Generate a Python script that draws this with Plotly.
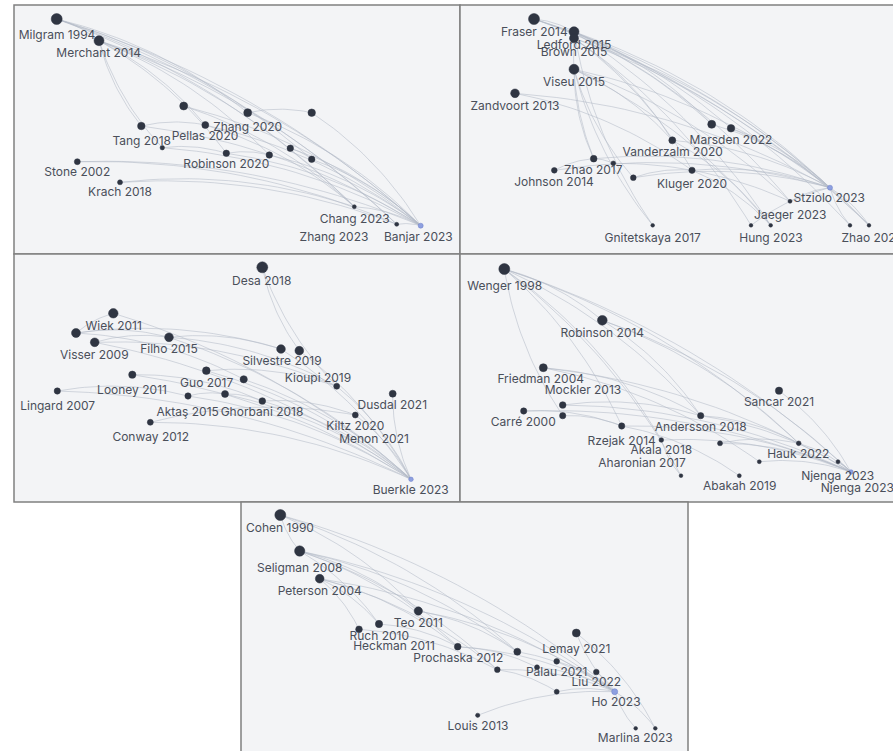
import plotly.graph_objects as go

W, H = 893, 751

# ---------------- Panel A ----------------
A_x = [56.7, 99, 183.7, 247.7, 311.7, 141.3, 205.3, 162.3, 226.3, 269.3, 290.3, 311.7, 77.3, 120, 354.3, 396.7, 420.7]
A_y = [19, 40.7, 106, 112.7, 112.7, 126, 125, 147.7, 153.3, 155, 148.3, 159.3, 161.7, 182.3, 206.7, 224.3, 225.7]
A_size = [11, 10, 8, 8, 7.5, 7.5, 7, 4.5, 6.5, 6.5, 6.5, 6.5, 6, 5, 4, 4, 5]
A_origin = 16
A_edges = [(0, 16), (0, 15), (0, 14), (0, 11), (0, 3), (1, 5), (1, 7), (1, 6), (1, 8), (1, 16), (1, 14),
           (1, 15), (1, 9), (5, 6), (5, 16), (2, 16), (3, 4), (3, 16), (4, 16), (6, 14), (6, 16), (7, 8),
           (7, 16), (8, 9), (8, 16), (9, 16), (10, 16), (11, 16), (10, 11), (12, 15), (12, 16), (13, 14),
           (13, 15), (14, 16), (15, 16), (2, 14), (0, 1)]
A_labels = ["Milgram 1994", "Merchant 2014", "Zhang 2020", "Tang 2018", "Pellas 2020", "Robinson 2020",
            "Stone 2002", "Krach 2018", "Chang 2023", "Zhang 2023", "Banjar 2023"]
A_lx = [57, 98.7, 247.7, 141.7, 205, 226.3, 77.3, 120, 354.7, 334, 418.3]
A_ly = [36, 54, 128, 141.7, 136.7, 165, 173.3, 193.3, 220, 238.3, 238.3]

# ---------------- Panel B ----------------
B_x = [534, 574, 574, 574, 515, 711.7, 731, 672.3, 593.7, 613.3, 554.3, 633.3, 692, 830, 790, 652.7, 751, 770.7, 850, 869]
B_y = [19, 31.7, 38.3, 69.3, 93.3, 124.3, 128.3, 140.3, 158.7, 163.3, 170.3, 177.7, 170.3, 187.7, 201.3, 225.3, 225.3, 225.3, 225.3, 225.3]
B_size = [11, 10, 9, 10, 8.7, 8, 7.5, 7, 6.7, 4.7, 5.7, 5.7, 6.3, 5, 4, 3.7, 3.7, 3.7, 3.7, 3.7]
B_origin = 13
B_edges = [(0, 13), (0, 19), (0, 6), (0, 1), (0, 5), (1, 13), (1, 5), (1, 17), (1, 18), (1, 14), (15, 1),
           (2, 13), (2, 19), (2, 16), (2, 12), (2, 8), (2, 7), (3, 13), (3, 17), (15, 3), (3, 11), (3, 7),
           (3, 14), (8, 3), (4, 12), (4, 13), (5, 13), (6, 13), (6, 19), (7, 13), (7, 17), (8, 9), (8, 13),
           (10, 8), (10, 13), (11, 12), (11, 13), (12, 13), (12, 17), (14, 13), (13, 19), (16, 13), (18, 13), (9, 14)]
B_labels = ["Fraser 2014", "Ledford 2015", "Brown 2015", "Viseu 2015", "Zandvoort 2013", "Marsden 2022",
            "Vanderzalm 2020", "Zhao 2017", "Johnson 2014", "Kluger 2020", "Stziolo 2023", "Jaeger 2023",
            "Gnitetskaya 2017", "Hung 2023", "Zhao 2023"]
B_lx = [534.3, 574, 574, 574, 515, 731, 672.7, 593.3, 554, 692, 829.3, 790.3, 652.7, 771, 872.3]
B_ly = [33.3, 45.7, 53.3, 82.7, 107.3, 140.7, 152.7, 170.7, 182.7, 185, 199.3, 216, 239.3, 239.3, 239.3]

# ---------------- Panel C ----------------
C_x = [262.3, 113.3, 76, 94.7, 169, 281, 299.3, 206.3, 243.7, 132.3, 336.7, 57.3, 188, 225, 262.3, 392.7, 355.3, 150.3, 411]
C_y = [267.3, 313.3, 333, 342.3, 337.3, 349, 350.7, 370.7, 379.3, 374.7, 386.3, 391, 396, 394, 401, 393.7, 415, 422.3, 479.3]
C_size = [11, 9.5, 9, 8.7, 8.7, 8.7, 8.7, 7.7, 7.3, 7.3, 6, 6.3, 6.3, 7, 6.7, 7, 6, 6, 4.5]
C_origin = 18
C_edges = [(0, 6), (6, 18), (0, 10), (5, 18), (1, 2), (2, 4), (2, 5), (3, 4), (3, 18), (3, 10), (1, 18),
           (4, 5), (4, 18), (4, 10), (7, 18), (8, 18), (9, 14), (9, 18), (11, 18), (11, 12), (12, 13),
           (12, 18), (13, 14), (13, 18), (14, 18), (14, 16), (10, 18), (16, 18), (15, 18), (17, 18),
           (17, 16), (7, 10), (2, 8)]
C_labels = ["Desa 2018", "Wiek 2011", "Visser 2009", "Filho 2015", "Silvestre 2019", "Guo 2017",
            "Kioupi 2019", "Looney 2011", "Lingard 2007", "Aktaş 2015", "Ghorbani 2018", "Dusdal 2021",
            "Kiltz 2020", "Menon 2021", "Conway 2012", "Buerkle 2023"]
C_lx = [261.7, 113.7, 94.3, 169, 282, 206.7, 318, 132, 57.7, 187.7, 262, 392.3, 355.3, 374, 150.7, 410.7]
C_ly = [282.3, 327.3, 356, 350, 362.3, 384, 379.3, 391, 406.7, 413.3, 413.3, 405.7, 427.3, 440.3, 438.3, 490.7]

# ---------------- Panel D ----------------
D_x = [504.3, 602.3, 543.3, 562.7, 562.7, 523.7, 621.7, 661.3, 700.7, 720, 681, 739.3, 779, 798.7, 759.3, 838, 851]
D_y = [269, 320.3, 367.7, 405, 415.7, 411, 426, 440, 415.7, 443.3, 475.7, 475.7, 390.7, 443.3, 461.7, 461.7, 472]
D_size = [11, 9.7, 8, 6.7, 6.3, 6.3, 6.3, 4.7, 6.3, 5, 3.7, 4, 7.3, 4.7, 4, 4, 4.5]
D_origin = 16
D_edges = [(0, 1), (0, 8), (0, 16), (0, 6), (0, 7), (0, 13), (0, 4), (0, 10), (1, 16), (1, 13), (1, 8),
           (2, 8), (2, 16), (3, 16), (3, 8), (4, 6), (5, 16), (5, 6), (6, 16), (6, 11), (7, 16), (8, 16),
           (8, 13), (9, 16), (14, 16), (12, 16), (13, 16), (15, 16), (7, 10), (2, 14), (9, 13)]
D_labels = ["Wenger 1998", "Robinson 2014", "Friedman 2004", "Mockler 2013", "Carré 2000", "Rzejak 2014",
            "Akala 2018", "Andersson 2018", "Aharonian 2017", "Abakah 2019", "Sancar 2021", "Hauk 2022",
            "Njenga 2023", "Njenga 2023"]
D_lx = [504.7, 602.3, 540.7, 583, 523.3, 621.7, 661.3, 700.7, 642, 739.7, 779, 798.3, 837.7, 857.3]
D_ly = [286.7, 334.3, 380, 391, 422.7, 441.7, 451, 427.7, 464.3, 487.3, 403.3, 455, 476.7, 488.7]

# ---------------- Panel E ----------------
E_x = [280.3, 299.7, 319.7, 418.3, 379, 359, 457.7, 517.3, 576.3, 556.7, 497.3, 537, 596.3, 614.7, 556.7, 477.7, 635.7, 655.3]
E_y = [515, 551, 578.7, 611, 624, 629.3, 646.7, 651.7, 633, 661.3, 669.7, 667.3, 672, 691.7, 691.7, 715.3, 728.3, 728.3]
E_size = [11, 10.3, 8.7, 8.3, 7.3, 6.7, 6.7, 7, 8, 5.7, 5.7, 5, 5.7, 6, 5, 4.3, 3.7, 3.7]
E_origin = 13
E_edges = [(0, 13), (0, 7), (0, 3), (1, 13), (1, 7), (1, 3), (1, 6), (1, 10), (1, 4), (2, 5), (2, 4),
           (2, 13), (2, 6), (3, 7), (3, 13), (4, 6), (5, 10), (6, 13), (6, 11), (7, 13), (8, 13), (8, 17),
           (9, 13), (10, 14), (10, 13), (11, 13), (12, 13), (14, 13), (15, 13), (13, 16), (13, 17), (0, 1), (2, 10)]
E_labels = ["Cohen 1990", "Seligman 2008", "Peterson 2004", "Teo 2011", "Ruch 2010", "Heckman 2011",
            "Prochaska 2012", "Lemay 2021", "Palau 2021", "Liu 2022", "Ho 2023", "Louis 2013", "Marlina 2023"]
E_lx = [280, 299.7, 319.7, 418.3, 379.3, 394, 458.3, 576.3, 556.7, 596.3, 616, 478, 635.3]
E_ly = [529.3, 569.3, 591.7, 624, 636.7, 647.3, 659.3, 650, 673.3, 683.3, 703.3, 726.7, 739]

# panel frames (x0, y0, x1, y1)
PANELS = [(14, 5, 460, 254), (460, 5, 905, 254), (14, 254, 460, 502), (460, 254, 905, 502), (241, 502, 688, 765)]

panels = [
    (A_x, A_y, A_size, A_origin, A_edges, A_labels, A_lx, A_ly),
    (B_x, B_y, B_size, B_origin, B_edges, B_labels, B_lx, B_ly),
    (C_x, C_y, C_size, C_origin, C_edges, C_labels, C_lx, C_ly),
    (D_x, D_y, D_size, D_origin, D_edges, D_labels, D_lx, D_ly),
    (E_x, E_y, E_size, E_origin, E_edges, E_labels, E_lx, E_ly),
]


def curve(p, q, k=0.11, n=24):
    (x0, y0), (x1, y1) = p, q
    dx, dy = x1 - x0, y1 - y0
    if abs(dy) > 1.5 * abs(dx):
        if y0 < y1:
            x0, y0, x1, y1 = x1, y1, x0, y0
    elif x0 > x1:
        x0, y0, x1, y1 = x1, y1, x0, y0
    dx, dy = x1 - x0, y1 - y0
    cx = (x0 + x1) / 2 + k * dy
    cy = (y0 + y1) / 2 - k * dx
    xs, ys = [], []
    for i in range(n + 1):
        t = i / n
        xs.append((1 - t) ** 2 * x0 + 2 * (1 - t) * t * cx + t ** 2 * x1)
        ys.append((1 - t) ** 2 * y0 + 2 * (1 - t) * t * cy + t ** 2 * y1)
    return xs, ys


fig = go.Figure()

shapes = []
for (x0, y0, x1, y1) in PANELS:
    shapes.append(dict(type="rect", xref="x", yref="y", x0=x0, y0=y0, x1=x1, y1=y1,
                       fillcolor="#f3f4f6", line=dict(color="#808080", width=1.5), layer="below"))

FONT = "Inter, Lato, sans-serif"
for (xs, ys, sz, orig, edges, labels, lx, ly) in panels:
    ex, ey = [], []
    for a, b in edges:
        cx, cy = curve((xs[a], ys[a]), (xs[b], ys[b]))
        ex += cx + [None]
        ey += cy + [None]
    fig.add_trace(go.Scatter(x=ex, y=ey, mode="lines", hoverinfo="skip",
                             line=dict(color="rgba(180,187,199,0.7)", width=0.8)))
    colors = ["#8ea0e0" if i == orig else "#2f3542" for i in range(len(xs))]
    lines = ["#6a7cc8" if i == orig else "#2f3542" for i in range(len(xs))]
    fig.add_trace(go.Scatter(x=xs, y=ys, mode="markers", hoverinfo="skip",
                             marker=dict(size=sz, color=colors, opacity=1,
                                         line=dict(color=lines, width=0.5))))
    fig.add_trace(go.Scatter(x=lx, y=ly, mode="text", text=labels, textposition="middle center",
                             hoverinfo="skip", cliponaxis=False,
                             textfont=dict(family=FONT, size=12, color="#4a4f5a")))

fig.update_layout(
    width=W, height=H, margin=dict(l=0, r=0, t=0, b=0),
    paper_bgcolor="white", plot_bgcolor="white", showlegend=False, shapes=shapes,
    xaxis=dict(range=[0, W], visible=False, fixedrange=True),
    yaxis=dict(range=[H, 0], visible=False, fixedrange=True),
)

fig.write_html("out.html", config={"displayModeBar": False},
               post_script="document.body.style.margin='0px';document.body.style.overflow='hidden';")
